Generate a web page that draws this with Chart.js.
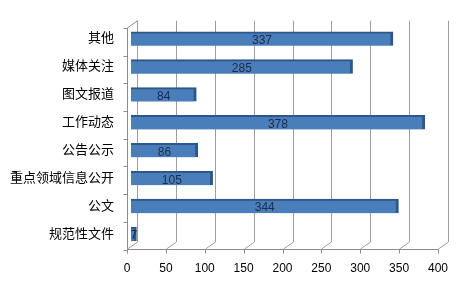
<!DOCTYPE html>
<html>
<head>
<meta charset="utf-8">
<script src="https://cdn.jsdelivr.net/npm/chart.js@4/dist/chart.umd.min.js"></script>
<style>
  html, body { margin: 0; padding: 0; background: #fff; }
  #wrap { width: 476px; height: 284px; }
</style>
</head>
<body>
<div id="wrap"><canvas id="myChart" width="476" height="284"></canvas></div>
<script>
// categories, top to bottom as in the picture
const categories = ['其他', '媒体关注', '图文报道', '工作动态', '公告公示', '重点领域信息公开', '公文', '规范性文件'];
const counts = [337, 285, 84, 378, 86, 105, 344, 7];
const xTicks = [0, 50, 100, 150, 200, 250, 300, 350, 400];

const fontFamily = '"Liberation Sans", Arial, "Noto Sans CJK SC", sans-serif';

// draws the 3d walls / floor lines like the old excel chart
const wallPlugin = {
	id: 'wall',
	beforeDatasetsDraw(chart) {
		const ctx = chart.ctx;
		const xs = chart.scales.x;
		const ys = chart.scales.y;
		const top = chart.chartArea.top;
		const bottom = chart.chartArea.bottom;
		const dx = 10, dy = 6;
		const front = v => xs.getPixelForValue(v) - 4;

		ctx.save();
		ctx.lineWidth = 1;
		ctx.strokeStyle = '#9e9e9e';
		ctx.beginPath();
		// back wall gridlines + floor diagonals
		xTicks.forEach(v => {
			const fx = Math.round(front(v)) + 0.5;
			ctx.moveTo(fx + dx, top - 4);
			ctx.lineTo(fx + dx, bottom - dy);
			ctx.lineTo(fx, bottom + 1);
		});
		ctx.stroke();

		ctx.strokeStyle = '#8c8c8c';
		ctx.beginPath();
		const lx = Math.round(front(0)) + 0.5;
		const fy = Math.round(bottom) + 1.5;
		// left side wall front edge
		ctx.moveTo(lx + dx, top - 4);
		ctx.lineTo(lx, top + 3);
		ctx.lineTo(lx, fy);
		ctx.lineTo(Math.round(front(400)) + 0.5, fy);
		// tick marks on the floor
		xTicks.forEach(v => {
			const fx = Math.round(front(v)) + 0.5;
			ctx.moveTo(fx, fy);
			ctx.lineTo(fx, fy + 4);
		});
		// tick marks on the side wall, between categories
		const step = (ys.bottom - ys.top) / categories.length;
		for (let i = 0; i <= categories.length; i++) {
			const y = Math.round(ys.top + 3 + i * step * (fy - top - 3) / (ys.bottom - ys.top)) + 0.5;
			ctx.moveTo(lx - 4, y);
			ctx.lineTo(lx, y);
		}
		ctx.stroke();
		ctx.restore();
	},
	afterDatasetsDraw(chart) {
		// value labels in the middle of each bar
		const ctx = chart.ctx;
		const meta = chart.getDatasetMeta(0);
		ctx.save();
		ctx.font = '12px ' + fontFamily;
		ctx.fillStyle = '#1c2b4a';
		ctx.textAlign = 'center';
		ctx.textBaseline = 'middle';
		meta.data.forEach((bar, i) => {
			const mid = (bar.base + bar.x) / 2;
			ctx.fillText(String(counts[i]), mid, bar.y + 2);
		});
		ctx.restore();
	}
};

const ctx = document.getElementById('myChart').getContext('2d');
let myChart = new Chart(ctx, {
	type: 'bar',
	data: {
		labels: categories,
		datasets: [{
			data: counts,
			backgroundColor: '#4a7ebb',
			borderColor: '#2d5689',
			borderWidth: { top: 2, right: 3, bottom: 0, left: 0 },
			borderSkipped: false,
			barThickness: 14
		}]
	},
	options: {
		indexAxis: 'y',
		responsive: false,
		animation: false,
		devicePixelRatio: 1,
		layout: { padding: { top: 21, right: 34, left: 0, bottom: 0 } },
		plugins: {
			legend: { display: false },
			tooltip: { enabled: false }
		},
		scales: {
			x: {
				type: 'linear',
				min: 0,
				max: 400,
				afterBuildTicks(scale) {
					scale.ticks = xTicks.map(v => ({ value: v }));
				},
				afterFit(scale) { scale.height = 36; },
				grid: { display: false, drawTicks: false },
				border: { display: false },
				ticks: {
					color: '#000',
					font: { size: 12, family: fontFamily },
					padding: 13,
					labelOffset: -4,
					maxRotation: 0,
					autoSkip: false
				}
			},
			y: {
				afterFit(scale) { scale.width = 131; },
				grid: { display: false, drawTicks: false },
				border: { display: false },
				ticks: {
					color: '#000',
					font: { size: 13, family: fontFamily },
					padding: 17,
					autoSkip: false
				}
			}
		}
	},
	plugins: [wallPlugin]
});
</script>
</body>
</html>
